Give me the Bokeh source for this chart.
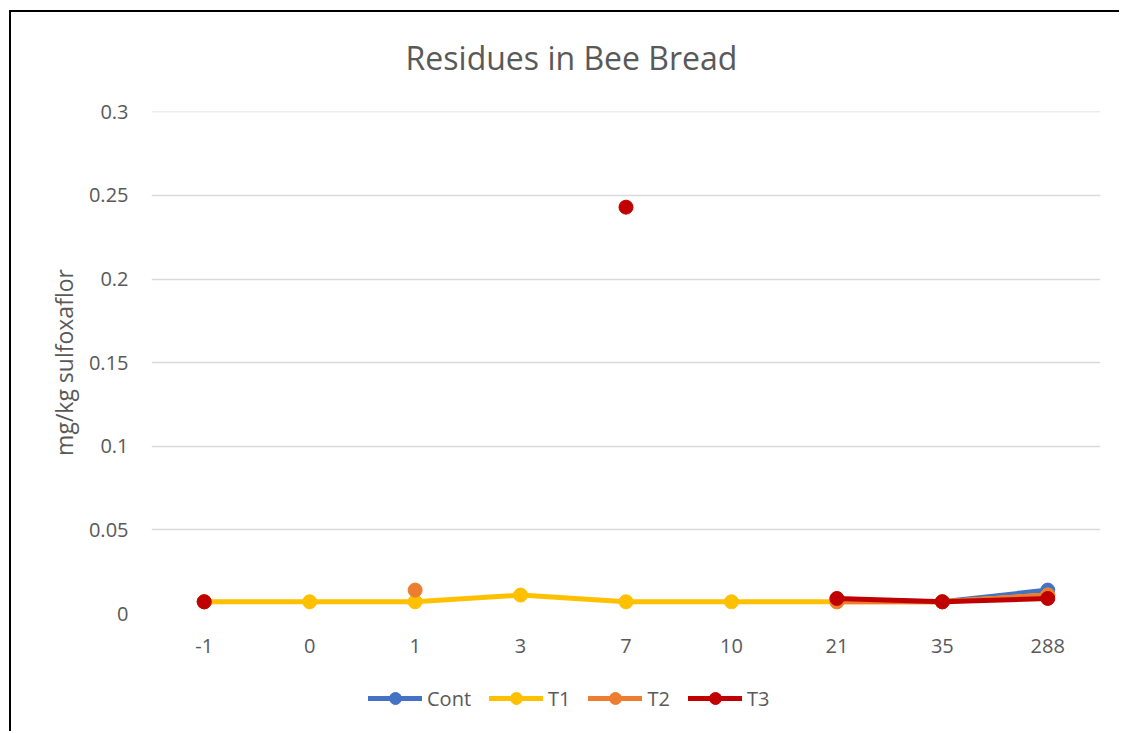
from bokeh.plotting import figure
from bokeh.layouts import column
from bokeh.models import Legend, LegendItem, FixedTicker, Label
from bokeh.embed import file_html
from bokeh.resources import INLINE

nan = float("nan")
days = ["-1", "0", "1", "3", "7", "10", "21", "35", "288"]
cont = [0.007, nan, nan, nan, nan, nan, 0.008, 0.007, 0.014]
t1 = [0.007, 0.007, 0.007, 0.011, 0.007, 0.007, 0.007, 0.007, 0.011]
t2 = [0.007, nan, 0.014, nan, nan, nan, 0.007, 0.007, 0.011]
t3 = [0.007, nan, nan, nan, 0.243, nan, 0.009, 0.007, 0.009]
series_names = ["Cont", "T1", "T2", "T3"]
series_colors = ["#4472C4", "#FFC000", "#ED7D31", "#C00000"]
y_ticks = [0, 0.05, 0.1, 0.15, 0.2, 0.25, 0.3]
y_tick_labels = ["0", "0.05", "0.1", "0.15", "0.2", "0.25", "0.3"]
title_text = "Residues in Bee Bread"
y_label_text = "mg/kg sulfoxaflor"

FONT = "Open Sans"
GREY = "#595959"


def strip(height, margin, styles):
    f = figure(width=1110, height=height, x_range=(0, 1), y_range=(0, 1),
               output_backend="svg", toolbar_location=None,
               min_border_left=0, min_border_right=0, min_border_top=0, min_border_bottom=0)
    f.margin = margin
    f.styles = styles
    f.axis.visible = False
    f.grid.visible = False
    f.outline_line_color = None
    f.border_fill_color = "white"
    return f


# title strip
tf = strip(70, (10, 0, 0, 9), {"border-left": "2px solid #000", "border-top": "2px solid #000"})
tf.add_layout(Label(x=420, y=25, x_units="screen", y_units="screen", text=title_text,
                    text_font=FONT, text_font_size="32px", text_color=GREY,
                    text_align="center", text_baseline="middle"))

# main chart
p = figure(width=1110, height=593, x_range=days, y_range=(0, 0.3002),
           output_backend="svg", toolbar_location=None,
           min_border_left=140, min_border_right=21, min_border_top=31,
           min_border_bottom=60)
p.margin = (0, 0, 0, 9)
p.styles = {"border-left": "2px solid #000"}
p.x_range.range_padding = 0
p.outline_line_color = None
p.background_fill_color = "white"
p.border_fill_color = "white"

p.xgrid.grid_line_color = None
p.ygrid.grid_line_color = "#D9D9D9"
p.ygrid.grid_line_width = 1.5
p.yaxis.ticker = FixedTicker(ticks=y_ticks)
p.yaxis.major_label_overrides = {t: l for t, l in zip(y_ticks, y_tick_labels)}

for ax in (p.xaxis[0], p.yaxis[0]):
    ax.axis_line_color = None
    ax.major_tick_line_color = None
    ax.minor_tick_line_color = None
    ax.major_tick_out = 0
    ax.major_tick_in = 0
    ax.major_label_text_font = FONT
    ax.major_label_text_font_size = "20px"
    ax.major_label_text_color = GREY
p.xaxis.major_label_standoff = 25
p.yaxis.major_label_standoff = 23
p.yaxis.axis_label = y_label_text
p.yaxis.axis_label_text_font = FONT
p.yaxis.axis_label_text_font_size = "23px"
p.yaxis.axis_label_text_font_style = "normal"
p.yaxis.axis_label_text_color = GREY
p.yaxis.axis_label_standoff = 6

series = [cont, t1, t2, t3]
for vals, col in zip(series, series_colors):
    p.line(days, vals, line_color=col, line_width=5, line_join="round", line_cap="round")
    p.scatter(days, vals, size=14, fill_color=col, line_color=col)

# legend strip below the chart (renderers kept out of view)
lf = figure(width=1110, height=58, x_range=days, y_range=(10, 11),
            output_backend="svg", toolbar_location=None,
            min_border_left=0, min_border_right=0, min_border_top=0, min_border_bottom=0)
lf.margin = (0, 0, 0, 9)
lf.styles = {"border-left": "2px solid #000"}
lf.axis.visible = False
lf.grid.visible = False
lf.outline_line_color = None
lf.border_fill_color = "white"
items = []
for name, vals, col in zip(series_names, series, series_colors):
    r1 = lf.line(days, vals, line_color=col, line_width=5, line_cap="round")
    r2 = lf.scatter(days, vals, size=12, fill_color=col, line_color=col)
    items.append(LegendItem(label=name, renderers=[r1, r2]))
legend = Legend(items=items, orientation="horizontal", location=(217, 18),
                glyph_width=54, glyph_height=30, label_text_font=FONT,
                label_text_font_size="20px", label_text_color=GREY,
                label_standoff=5, spacing=18, border_line_color=None,
                background_fill_alpha=0, padding=0, margin=0)
lf.add_layout(legend, "center")

layout = column(tf, p, lf, spacing=0)
open("out.html", "w").write(file_html(layout, INLINE))
